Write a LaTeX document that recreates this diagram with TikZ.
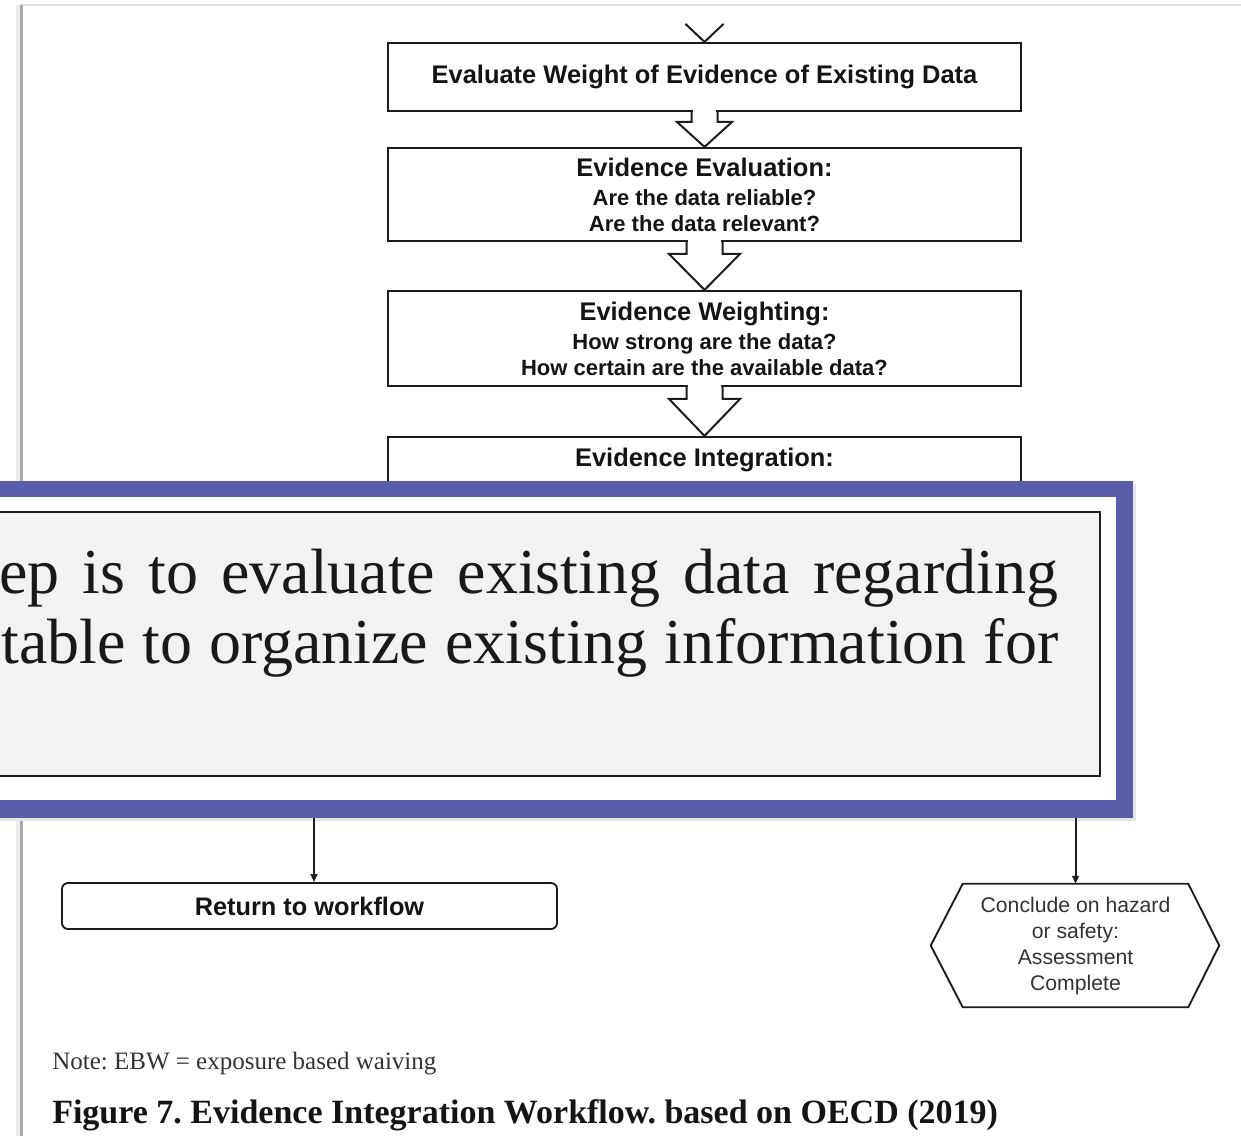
\documentclass[tikz,border=0pt]{standalone}
\usepackage{fontspec}
\setmainfont{Liberation Serif}
\setsansfont{Liberation Sans}
\usetikzlibrary{calc,arrows.meta}
\frenchspacing

\definecolor{frameblue}{RGB}{89,92,168}
\definecolor{panelgray}{RGB}{242,242,242}
\definecolor{inkgray}{RGB}{28,28,28}
\definecolor{edgegray}{RGB}{170,170,170}
\definecolor{topedge}{RGB}{222,222,222}

% heading line inside a flow box
\newcommand\flowhead[1]{{\fontsize{19.1pt}{19.5pt}\selectfont #1}}

% hollow block arrow from the bottom of one box to the top of the next
% #1 from node, #2 to node, #3 shaft half width, #4 head half width, #5 head length
\newcommand\hollowdown[5]{%
  \fill[white] ($(#1.south)+(-#3+1.5,-3)$) rectangle ($(#1.south)+(#3-1.5,3)$);
  \filldraw[fill=white, draw=inkgray, line width=1.5pt, line join=miter]
    ($(#1.south)+(-#3,0)$) -- ($(#2.north)+(-#3,-#5)$) -- ($(#2.north)+(-#4,-#5)$)
    -- (#2.north) -- ($(#2.north)+(#4,-#5)$) -- ($(#2.north)+(#3,-#5)$)
    -- ($(#1.south)+(#3,0)$);
}

\tikzset{
  flowbox/.style={draw=inkgray, line width=1.6pt, fill=white,
    minimum width=474.75pt, inner sep=0pt, align=center, text=black!92,
    font=\sffamily\bfseries\fontsize{16.5pt}{19.5pt}\selectfont},
  endbox/.style={draw=inkgray, line width=1.4pt, fill=white, rounded corners=4.5pt,
    minimum width=371.25pt, minimum height=34.5pt, inner sep=0pt, text=black!92,
    font=\sffamily\bfseries\fontsize{19pt}{22pt}\selectfont},
  hextext/.style={minimum width=168.75pt, minimum height=92.25pt, inner sep=0pt,
    align=center, text=black!80,
    font=\sffamily\fontsize{15.9pt}{19.5pt}\selectfont},
  flowarrow/.style={draw=inkgray, line width=1.5pt,
    -{Triangle[length=6pt,width=5pt]}},
  serifline/.style={anchor=base west, inner sep=0pt, text=black!90,
    font=\fontsize{48pt}{52pt}\selectfont},
}

\begin{document}
\begin{tikzpicture}[x=0.75pt, y=-0.75pt]
  \useasboundingbox (0,0) rectangle (1241,1136);
  \clip (0,0) rectangle (1241,1136);
  \fill[white] (0,0) rectangle (1241,1136);

  % page edges
  \draw[topedge, line width=1.2pt] (20,5) -- (1241,5);
  \draw[black!8, line width=4pt] (19,5) -- (19,1136);
  \draw[edgegray, line width=1.8pt] (21.5,5) -- (21.5,1136);

  % flow boxes
  \node[flowbox, minimum height=51pt] (b1) at (704.5,77)
    {\flowhead{Evaluate Weight of Evidence of Existing Data}};
  \node[flowbox, minimum height=69.75pt] (b2) at (704.5,194.5)
    {\flowhead{Evidence Evaluation:}\\[2.25pt]Are the data reliable?\\Are the data relevant?};
  \node[flowbox, minimum height=71.25pt] (b3) at (704.5,338.5)
    {\flowhead{Evidence Weighting:}\\[2.25pt]How strong are the data?\\How certain are the available data?};
  \node[flowbox, minimum height=137.25pt] (b4) at (704.5,528.5) {};
  \node[anchor=center, inner sep=0pt, text=black!92,
        font=\sffamily\bfseries\fontsize{19.1pt}{19.5pt}\selectfont]
    (b4title) at ($(b4.north)+(0,24)$) {Evidence Integration:};

  % incoming arrow head above the first box
  \draw[inkgray, line width=1.5pt, line join=miter]
    ($(b1.north)+(-19,-18)$) -- (b1.north) -- ($(b1.north)+(19,-18)$);

  % hollow block arrows
  \hollowdown{b1}{b2}{13}{27.5}{25}
  \hollowdown{b2}{b3}{18}{35.5}{36}
  \hollowdown{b3}{b4}{18}{35.5}{37}

  % end points
  \node[endbox] (ret) at (309.5,906) {Return to workflow};
  \node[hextext] (concl) at (1075.5,945.5)
    {Conclude on hazard\\or safety:\\Assessment\\Complete};
  \draw[inkgray, line width=1.4pt, line join=miter]
    (concl.north west) -- (concl.north east) -- ($(concl.east)+(31,0)$)
    -- (concl.south east) -- (concl.south west) -- ($(concl.west)+(-32,0)$) -- cycle;

  % callout panel laid over the lower part of the flow
  \fill[black!10] (-20,484) rectangle (1136,821);
  \fill[frameblue] (-20,481) rectangle (1133,818);
  \fill[white] (-20,497) rectangle (1116,800);
  \filldraw[fill=panelgray, draw=inkgray, line width=1.3pt] (-20,512) rectangle (1100,776);
  \node[serifline] (ovl1) at (-1,593)
    {\makebox[794.25pt][s]{ep is to evaluate existing data regarding}};
  \node[serifline] (ovl2) at (1,663)
    {\makebox[792.75pt][s]{table to organize existing information for}};

  % connectors leaving the panel
  \coordinate (outL) at (314,818);
  \coordinate (outR) at (1075.5,818);
  \draw[flowarrow] (outL) -- (outL |- ret.north);
  \draw[flowarrow] (outR) -- (concl.north);

  % note and caption
  \node[anchor=base west, inner sep=0pt, text=black!80,
        font=\fontsize{18.75pt}{22pt}\selectfont] (note) at (52,1069)
    {Note: EBW = exposure based waiving};
  \node[anchor=base west, inner sep=0pt, text=black!92,
        font=\bfseries\fontsize{25.5pt}{30pt}\selectfont] (cap) at (52,1123)
    {Figure 7. Evidence Integration Workflow. based on OECD (2019)};
\end{tikzpicture}
\end{document}
